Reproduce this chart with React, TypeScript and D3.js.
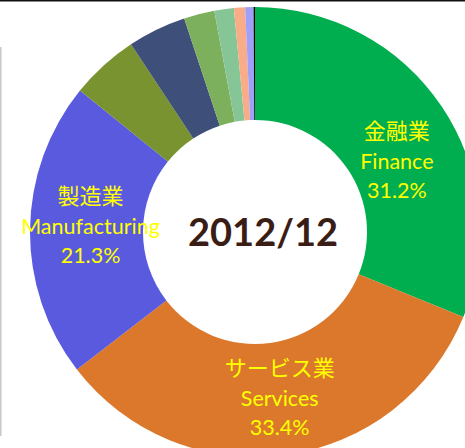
import React from 'react';
import * as d3 from 'd3';

// ---- data ----
const categoriesJa: string[] = ['金融業', 'サービス業', '製造業', '', '', '', '', '', '', ''];
const categoriesEn: string[] = ['Finance', 'Services', 'Manufacturing', '', '', '', '', '', '', ''];
const shares: number[] = [31.2, 33.4, 21.3, 4.9, 4.2, 2.2, 1.4, 0.8, 0.6, 0.1];
const centerTitle = '2012/12';

// ---- styles ----
const sliceColors = [
  '#00AE4F', '#DC782B', '#5A5ADF', '#78932F', '#3E4F79',
  '#7DB05C', '#86C596', '#F8AC88', '#A0A0F8', '#000000',
];
const labelShift: Record<string, [number, number]> = {
  Finance: [2, 27],
  Services: [2, 3],
  Manufacturing: [4, 0],
};

const W = 465;
const H = 448;
const cx = 255;
const cy = 232;
const outerR = 225;
const innerR = 112;

export default function App() {
  const items = shares.map((v, i) => ({ v, ja: categoriesJa[i], en: categoriesEn[i], color: sliceColors[i] }));
  const pie = d3.pie<any>().value((d) => d.v).sort(null).startAngle(0).endAngle(2 * Math.PI);
  const arcs = pie(items);
  const total = d3.sum(shares);
  const arc = d3.arc<any>().innerRadius(innerR).outerRadius(outerR);
  const fmt = d3.format('.1f');
  const enFont = 'Lato, "Open Sans", sans-serif';
  const jaFont = '"Noto Sans CJK JP", sans-serif';

  return (
    <div style={{ position: 'absolute', left: 0, top: 0 }}>
      <svg width={W} height={H} style={{ display: 'block', background: '#fff' }}>
        <rect x={0} y={0} width={W} height={1.5} fill="#111" />
        <rect x={0} y={47} width={1.5} height={389} fill="#c8c8c8" />
        <g transform={`translate(${cx},${cy})`}>
          {arcs.map((a, i) => (
            <path key={i} d={arc(a) || ''} fill={a.data.color} />
          ))}
          {arcs.filter((a) => a.data.en).map((a, i) => {
            const [x, y] = arc.centroid(a);
            const [dx, dy] = labelShift[a.data.en] || [0, 0];
            const bx = x + dx;
            const by = y + dy;
            const pct = fmt((a.data.v / total) * 100) + '%';
            return (
              <g key={'l' + i} fill="#FFFF00" textAnchor="middle">
                <text x={bx} y={by - 26} fontFamily={jaFont} fontSize={22}>{a.data.ja}</text>
                <text x={bx} y={by + 4} fontFamily={enFont} fontSize={21.5}>{a.data.en}</text>
                <text x={bx} y={by + 33} fontFamily={enFont} fontSize={21.5}>{pct}</text>
              </g>
            );
          })}
          <text x={8} y={14} textAnchor="middle" fontFamily={enFont} fontWeight={700} fontSize={38} fill="#3A1D15">
            {centerTitle}
          </text>
        </g>
      </svg>
    </div>
  );
}
